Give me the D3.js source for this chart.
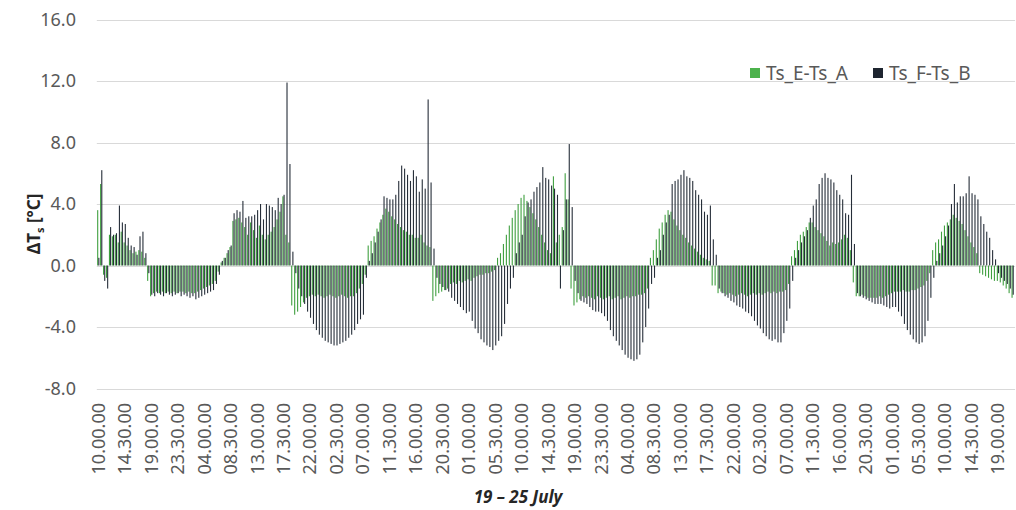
<!DOCTYPE html>
<html>
<head>
<meta charset="utf-8">
<script src="https://cdn.jsdelivr.net/npm/d3@7"></script>
<style>
  body { margin: 0; background: #fff; }
  svg { display: block; font-family: "Noto Sans", sans-serif; }
</style>
</head>
<body>
<div id="chart"></div>
<script>
// half-hourly values, 19 Jul 10:00 -> 25 Jul 21:30
const seriesNames = ["Ts_E-Ts_A", "Ts_F-Ts_B"];

const tsEA = [
  3.6, 5.3, -0.6, -0.8, 2.0, 1.9, 2.0, 1.5, 2.2, 1.5, 1.3, 1.0,
  0.8, 0.9, 1.0, 0.9, 0.5, -1.0, -2.0, -1.8, -1.7, -1.8, -1.7, -1.8,
  -1.7, -1.8, -1.7, -1.8, -1.7, -1.7, -1.8, -1.7, -1.8, -1.8, -1.7, -1.6,
  -1.5, -1.4, -1.3, -1.2, -1.0, -0.4, 0.2, 0.5, 0.8, 1.2, 2.9, 3.0,
  3.1, 2.8, 2.5, 2.0, 2.8, 2.3, 1.8, 2.6, 2.0, 1.7, 2.0, 2.2,
  2.5, 3.0, 3.5, 4.5, 2.0, 1.5, -2.6, -3.2, -3.0, -2.7, -2.4, -2.1,
  -2.0, -1.9, -2.0, -1.9, -2.0, -2.1, -2.0, -1.9, -2.0, -2.1, -2.0, -1.9,
  -2.0, -2.1, -2.0, -2.0, -1.8, -1.5, -1.2, -0.6, 1.3, 1.6, 1.9, 2.4,
  2.8, 3.3, 3.7, 3.5, 3.2, 3.0, 2.7, 2.5, 2.3, 2.2, 2.0, 2.0,
  1.8, 1.8, 2.0, 1.5, 1.3, 1.2, -2.3, -2.0, -1.8, -1.7, -1.6, -1.5,
  -1.2, -1.1, -1.2, -1.0, -1.1, -1.0, -0.9, -1.0, -0.8, -0.7, -0.6, -0.6,
  -0.5, -0.5, -0.4, -0.3, 0.5, 0.8, 1.4, 2.0, 2.6, 3.1, 3.6, 4.0,
  4.4, 4.6, 4.2, 3.8, 3.4, 3.0, 2.5, 2.0, 1.5, 1.0, 0.8, 5.8,
  1.5, 2.0, 2.5, 6.0, 4.3, -1.5, -2.6, -2.4, -2.2, -2.0, -2.1, -2.0,
  -2.1, -2.2, -2.0, -2.1, -2.2, -2.1, -2.0, -2.2, -2.1, -2.0, -2.2, -2.1,
  -2.0, -2.1, -2.0, -2.0, -1.9, -1.9, -1.8, -1.5, 0.5, 1.0, 1.7, 2.4,
  2.8, 3.3, 3.6, 3.5, 3.0, 2.6, 2.3, 2.0, 1.8, 1.5, 1.3, 1.1,
  0.9, 0.7, 0.5, 0.4, 0.3, -1.3, -1.3, -1.8, -1.7, -1.8, -1.9, -1.8,
  -1.9, -2.0, -1.9, -1.8, -1.9, -2.0, -1.9, -1.8, -1.9, -1.8, -1.9, -1.8,
  -1.7, -1.8, -1.7, -1.8, -1.7, -1.7, -1.6, -1.2, 0.6, 1.0, 1.6, 2.0,
  2.2, 2.5, 2.8, 2.8, 2.5, 2.3, 2.1, 1.9, 1.6, 1.3, 1.5, 1.4,
  1.5, 1.7, 2.0, 1.8, 1.0, -1.1, -2.0, -2.0, -1.9, -2.0, -2.1, -2.1,
  -2.1, -2.1, -2.0, -2.1, -2.0, -1.9, -1.8, -1.7, -1.7, -1.7, -1.6, -1.7,
  -1.7, -1.6, -1.6, -1.5, -1.4, -1.3, -1.0, -0.5, 1.0, 1.5, 1.7, 2.2,
  2.6, 2.8, 3.0, 3.3, 3.1, 2.9, 2.7, 2.3, 1.9, 1.5, 1.2, 0.8,
  -0.5, -0.6, -0.7, -0.8, -0.9, -1.0, -1.0, -1.1, -1.3, -1.5, -1.8, -2.1
];

const tsFB = [
  0.5, 6.2, -1.0, -1.5, 2.5, 2.0, 2.1, 3.9, 2.8, 2.7, 1.8, 1.3,
  1.2, 0.7, 1.9, 2.2, 0.8, -0.5, -1.9, -2.0, -1.8, -1.9, -2.0, -1.8,
  -1.9, -2.0, -1.9, -1.8, -2.0, -1.9, -2.0, -2.1, -2.0, -2.2, -2.1, -2.0,
  -1.9, -1.8, -1.7, -1.6, -1.2, -0.6, 0.3, 0.5, 1.0, 1.3, 3.4, 3.6,
  3.5, 4.2, 3.1, 3.2, 3.2, 3.3, 3.6, 4.0, 3.0, 4.0, 3.9, 3.8,
  3.6, 4.4, 4.0, 4.6, 11.9, 6.6, 0.9, -0.5, -1.5, -2.0, -2.5, -3.0,
  -3.4, -3.8, -4.2, -4.5, -4.7, -4.9, -5.0, -5.1, -5.2, -5.2, -5.1, -5.0,
  -4.9, -4.7, -4.5, -4.2, -3.8, -3.5, -3.2, -0.8, 0.3, 0.8, 1.5, 2.2,
  3.0, 4.5, 4.4, 4.3, 4.3, 4.6, 5.5, 6.5, 6.3, 5.9, 5.5, 6.2,
  5.8, 4.8, 5.6, 5.0, 10.8, 5.4, 1.1, -0.8, -1.2, -1.4, -1.6, -1.7,
  -2.1, -2.3, -2.5, -2.7, -2.9, -3.1, -3.0, -3.6, -4.1, -4.4, -4.8, -5.0,
  -5.2, -5.3, -5.5, -5.2, -4.9, -4.6, -3.8, -2.5, -1.5, -0.8, 0.8, 1.5,
  2.0, 3.2, 4.1, 4.3, 4.8, 5.1, 5.4, 6.4, 5.7, 5.6, 5.2, 5.0,
  4.6, -1.5, 2.3, 4.3, 7.9, 3.8, -1.0, -1.8, -2.3, -2.4, -2.5, -2.7,
  -2.9, -3.0, -3.0, -3.1, -3.3, -3.6, -4.2, -4.6, -4.9, -5.2, -5.5, -5.8,
  -6.0, -6.1, -6.2, -6.1, -5.8, -5.0, -4.0, -2.8, -1.2, -0.8, 0.5, 1.0,
  2.0, 2.8, 3.3, 5.3, 5.5, 5.6, 5.9, 6.2, 5.8, 5.7, 5.5, 4.9,
  4.6, 4.3, 3.5, 3.3, 3.9, 1.7, 0.7, -1.5, -1.8, -2.0, -2.1, -2.3,
  -2.4, -2.6, -2.7, -2.8, -3.0, -3.1, -3.3, -3.6, -3.9, -4.1, -4.4, -4.6,
  -4.8, -4.9, -4.8, -5.0, -5.0, -4.4, -3.6, -2.8, -1.0, 0.5, 1.0, 1.5,
  1.9, 2.3, 3.1, 3.9, 4.3, 5.3, 5.7, 6.0, 5.7, 5.6, 5.4, 4.9,
  4.6, 4.3, 3.4, 3.3, 5.9, 1.4, -1.8, -2.0, -2.1, -2.2, -2.3, -2.4,
  -2.5, -2.5, -2.5, -2.6, -2.7, -2.8, -2.7, -2.7, -3.0, -3.3, -3.8, -4.2,
  -4.5, -4.8, -5.0, -5.1, -5.0, -4.6, -3.6, -2.1, -0.8, 0.3, 0.8, 1.3,
  1.9, 2.6, 4.0, 5.3, 4.1, 4.5, 4.5, 4.7, 5.8, 4.7, 4.6, 4.3,
  3.2, 2.7, 2.2, 1.8, 1.0, 0.4, -0.5, -0.8, -1.0, -1.2, -1.5, -1.9
];

// one label every 9th half-hour slot
const tickLabels = [
  "10.00.00", "14.30.00", "19.00.00", "23.30.00", "04.00.00", "08.30.00", "13.00.00",
  "17.30.00", "22.00.00", "02.30.00", "07.00.00", "11.30.00", "16.00.00", "20.30.00",
  "01.00.00", "05.30.00", "10.00.00", "14.30.00", "19.00.00", "23.30.00", "04.00.00",
  "08.30.00", "13.00.00", "17.30.00", "22.00.00", "02.30.00", "07.00.00", "11.30.00",
  "16.00.00", "20.30.00", "01.00.00", "05.30.00", "10.00.00", "14.30.00", "19.00.00"
];
const tickStep = 9;
const yTicks = [-8, -4, 0, 4, 8, 12, 16];
const xTitle = "19 \u2013 25 July";

const width = 1016, height = 510;
const plot = { left: 96.8, right: 1014.1, top: 19.5, bottom: 388.5 };
const colors = ["#3f9f3f", "#252d38"];

const svg = d3.select("#chart").append("svg")
  .attr("width", width)
  .attr("height", height);

const x = d3.scaleBand()
  .domain(d3.range(tsEA.length))
  .range([plot.left, plot.right])
  .paddingInner(0.2)
  .paddingOuter(0.1);

const xSeries = d3.scaleBand()
  .domain([0, 1])
  .range([0, x.bandwidth()])
  .padding(0.05);

const y = d3.scaleLinear()
  .domain([-8, 16])
  .range([plot.bottom, plot.top]);

// gridlines
svg.append("g")
  .selectAll("line")
  .data(yTicks)
  .join("line")
  .attr("x1", plot.left)
  .attr("x2", plot.right + 1)
  .attr("y1", d => Math.round(y(d)) + 0.5)
  .attr("y2", d => Math.round(y(d)) + 0.5)
  .attr("stroke", "#d9d9d9")
  .attr("stroke-width", 1);

// y tick labels
svg.append("g")
  .selectAll("text")
  .data(yTicks)
  .join("text")
  .attr("x", 76)
  .attr("y", d => y(d))
  .attr("dy", "0.35em")
  .attr("text-anchor", "end")
  .attr("font-size", 18)
  .attr("fill", "#595959")
  .text(d => d.toFixed(1));

// bars
const series = [tsEA, tsFB];
series.forEach((vals, s) => {
  svg.append("g")
    .attr("fill", colors[s])
    .selectAll("rect")
    .data(vals)
    .join("rect")
    .attr("x", (d, i) => x(i) + xSeries(s))
    .attr("width", xSeries.bandwidth())
    .attr("y", d => y(Math.max(0, d)))
    .attr("height", d => Math.abs(y(d) - y(0)));
});

// x axis labels
const xAxis = d3.axisBottom(x)
  .tickValues(d3.range(0, tsEA.length, tickStep))
  .tickFormat(i => tickLabels[i / tickStep])
  .tickSize(0);

const gx = svg.append("g")
  .attr("transform", `translate(0,${plot.bottom})`)
  .call(xAxis);
gx.select(".domain").remove();
gx.selectAll("text")
  .attr("transform", "rotate(-90)")
  .attr("text-anchor", "end")
  .attr("x", -14.5)
  .attr("y", 0)
  .attr("dy", "0.36em")
  .attr("font-size", 18)
  .attr("font-family", "Noto Sans, sans-serif")
  .attr("fill", "#595959");

// axis titles
svg.append("text")
  .attr("x", 518)
  .attr("y", 503)
  .attr("text-anchor", "middle")
  .attr("font-size", 17)
  .attr("font-weight", "bold")
  .attr("font-style", "italic")
  .attr("fill", "#262626")
  .text(xTitle);

const yTitle = svg.append("text")
  .attr("transform", "translate(40,224) rotate(-90)")
  .attr("text-anchor", "middle")
  .attr("font-size", 17)
  .attr("font-weight", "bold")
  .attr("fill", "#262626");
yTitle.append("tspan").text("\u0394T");
yTitle.append("tspan").attr("font-size", 11).attr("dy", 4).text("s");
yTitle.append("tspan").attr("dy", -4).text(" [\u00b0C]");

// legend
const legend = svg.append("g")
  .selectAll("g")
  .data(seriesNames)
  .join("g")
  .attr("transform", (d, i) => `translate(${[750, 873][i]},68)`);
legend.append("rect")
  .attr("width", 10)
  .attr("height", 10)
  .attr("fill", (d, i) => i === 0 ? "#4cb24c" : "#1e2530");
legend.append("text")
  .attr("x", 16)
  .attr("y", 5)
  .attr("dy", "0.35em")
  .attr("font-size", 19)
  .attr("fill", "#595959")
  .text(d => d);
</script>
</body>
</html>
